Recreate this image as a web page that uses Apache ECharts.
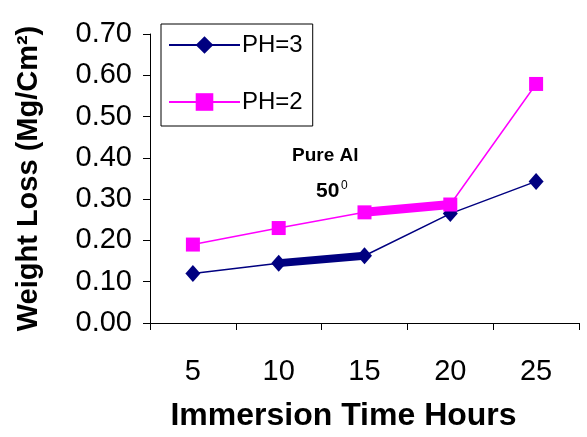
<!DOCTYPE html>
<html>
<head>
<meta charset="utf-8">
<script src="https://cdn.jsdelivr.net/npm/echarts@6/dist/echarts.min.js"></script>
<style>
html,body{margin:0;padding:0;background:#fff;}
#chart{width:587px;height:437px;}
</style>
</head>
<body>
<div id="chart"></div>
<script>
// Immersion times (hours) and weight loss (mg/cm²) for pure Al at 50°
const hours = ['5', '10', '15', '20', '25'];
const ph3 = [0.12, 0.145, 0.163, 0.265, 0.343];
const ph2 = [0.19, 0.23, 0.268, 0.287, 0.579];
const yTicks = [0, 0.1, 0.2, 0.3, 0.4, 0.5, 0.6, 0.7];

// Highlighted (heavy) segments taken from the same series values
const ph3Heavy = ph3.map((v, i) => (i === 1 || i === 2) ? v : null);
const ph2Heavy = ph2.map((v, i) => (i === 2 || i === 3) ? v : null);

const NAVY = '#000080';
const MAGENTA = '#FF00FF';
const FONT = 'Liberation Sans, Arial, sans-serif';

const chart = echarts.init(document.getElementById('chart'));
chart.setOption({
  animation: false,
  backgroundColor: '#fff',
  grid: { left: 150, right: 8, top: 34, bottom: 112, containLabel: false },
  legend: {
    orient: 'vertical',
    left: 161, top: 24,
    width: 150,
    padding: [9, 10, 12, 7],
    itemGap: 33,
    itemWidth: 71, itemHeight: 22,
    borderColor: '#000', borderWidth: 1,
    data: ['PH=3', 'PH=2'],
    textStyle: { fontFamily: FONT, fontSize: 24, color: '#000', padding: [0, 8, 0, -3] }
  },
  xAxis: {
    type: 'category',
    data: hours,
    boundaryGap: true,
    axisLine: { lineStyle: { color: '#000', width: 1 } },
    axisTick: { show: true, alignWithLabel: false, length: 7, lineStyle: { color: '#000' } },
    axisLabel: { color: '#000', fontFamily: FONT, fontSize: 29, margin: 34 },
    name: 'Immersion Time Hours',
    nameLocation: 'middle',
    nameGap: 77,
    nameTextStyle: { color: '#000', fontFamily: FONT, fontSize: 32, fontWeight: 'bold', padding: [0, 0, 0, -42] }
  },
  yAxis: {
    type: 'value',
    min: 0, max: 0.7, interval: 0.1,
    splitLine: { show: false },
    axisLine: { show: true, lineStyle: { color: '#000', width: 1 } },
    axisTick: { show: true, inside: false, length: 7, lineStyle: { color: '#000' } },
    axisLabel: {
      color: '#000', fontFamily: FONT, fontSize: 29, margin: 18,
      formatter: v => yTicks.some(t => Math.abs(t - v) < 1e-9) ? v.toFixed(2) : ''
    },
    name: 'Weight Loss (Mg/Cm²)',
    nameLocation: 'middle',
    nameGap: 107,
    nameRotate: 90,
    nameTextStyle: { color: '#000', fontFamily: FONT, fontSize: 29, fontWeight: 'bold' }
  },
  series: [
    {
      name: 'PH=3', type: 'line', data: ph3,
      symbol: 'diamond', symbolSize: [15, 17],
      lineStyle: { color: NAVY, width: 1.5 },
      itemStyle: { color: NAVY },
      z: 3
    },
    {
      name: 'PH=2', type: 'line', data: ph2,
      symbol: 'rect', symbolSize: 14,
      lineStyle: { color: MAGENTA, width: 1.5 },
      itemStyle: { color: MAGENTA },
      z: 3
    },
    {
      name: 'ph3-heavy', type: 'line', data: ph3Heavy,
      symbol: 'none', connectNulls: false,
      lineStyle: { color: NAVY, width: 8 },
      z: 2
    },
    {
      name: 'ph2-heavy', type: 'line', data: ph2Heavy,
      symbol: 'none', connectNulls: false,
      lineStyle: { color: MAGENTA, width: 9 },
      z: 2
    }
  ],
  graphic: [
    {
      type: 'text', left: 292, top: 146,
      style: {
        text: 'Pure Al',
        fontFamily: FONT, fontSize: 19, fontWeight: 'bold', fill: '#000'
      }
    },
    {
      type: 'text', left: 316, top: 181,
      style: {
        text: '50',
        fontFamily: FONT, fontSize: 21, fontWeight: 'bold', fill: '#000'
      }
    },
    {
      type: 'text', left: 341, top: 180,
      style: {
        text: '0',
        fontFamily: FONT, fontSize: 12, fill: '#000'
      }
    }
  ]
});
</script>
</body>
</html>
